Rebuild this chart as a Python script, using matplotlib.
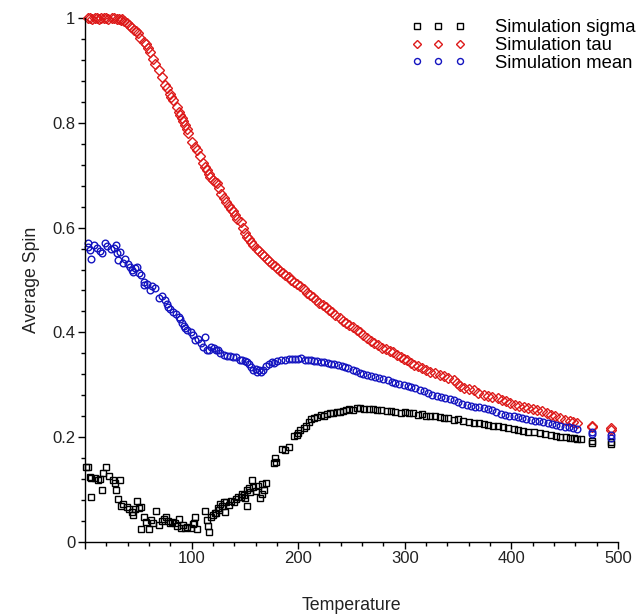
import matplotlib
matplotlib.use("Agg")
import matplotlib.pyplot as plt
from matplotlib.ticker import MultipleLocator, FuncFormatter

plt.rcParams['font.family'] = ['Liberation Sans', 'DejaVu Sans']

# Simulation sigma (black squares)
sigma_T = [1, 3, 5, 6, 6, 9, 12, 14, 16, 17, 20, 23, 26, 28, 29, 31, 33, 34, 36, 39,
           41, 44, 45, 47, 49, 51, 53, 53, 55, 57, 60, 62, 64, 67, 69, 72, 74, 76, 78, 80,
           82, 84, 86, 88, 90, 92, 94, 96, 99, 101, 102, 103, 105, 113, 114, 115, 116, 118, 120, 122,
           123, 125, 126, 127, 129, 130, 131, 132, 135, 137, 140, 142, 144, 146, 147, 149, 150, 152, 152, 154,
           155, 157, 158, 160, 162, 164, 166, 166, 168, 170, 177, 178, 179, 185, 188, 191, 196, 199, 200, 202,
           205, 207, 210, 212, 215, 218, 221, 224, 227, 230, 233, 236, 239, 242, 245, 248, 251, 255, 258, 262,
           266, 270, 274, 278, 283, 287, 291, 296, 300, 304, 308, 312, 316, 320, 324, 328, 333, 337, 341, 346,
           350, 355, 360, 365, 370, 374, 378, 383, 387, 392, 397, 402, 406, 411, 416, 421, 427, 432, 437, 442,
           446, 451, 455, 459, 462, 465, 476, 476, 493, 493]
sigma = [0.143, 0.143, 0.123, 0.121, 0.085, 0.121, 0.118, 0.120, 0.099, 0.132, 0.143, 0.125, 0.118, 0.112, 0.099, 0.082, 0.117, 0.068, 0.072, 0.067,
         0.063, 0.057, 0.051, 0.062, 0.078, 0.064, 0.067, 0.024, 0.048, 0.038, 0.024, 0.041, 0.036, 0.059, 0.031, 0.040, 0.044, 0.047, 0.040, 0.036,
         0.038, 0.036, 0.030, 0.043, 0.027, 0.031, 0.026, 0.029, 0.027, 0.033, 0.035, 0.047, 0.024, 0.059, 0.041, 0.030, 0.019, 0.048, 0.051, 0.055,
         0.054, 0.064, 0.060, 0.073, 0.068, 0.076, 0.057, 0.076, 0.070, 0.078, 0.076, 0.082, 0.086, 0.085, 0.092, 0.089, 0.083, 0.068, 0.099, 0.102,
         0.095, 0.118, 0.104, 0.096, 0.106, 0.083, 0.092, 0.110, 0.098, 0.113, 0.150, 0.159, 0.153, 0.177, 0.176, 0.180, 0.202, 0.204, 0.207, 0.213,
         0.218, 0.221, 0.229, 0.234, 0.236, 0.239, 0.242, 0.241, 0.244, 0.245, 0.246, 0.247, 0.248, 0.250, 0.251, 0.253, 0.252, 0.255, 0.255, 0.253,
         0.254, 0.253, 0.252, 0.251, 0.250, 0.249, 0.248, 0.246, 0.247, 0.245, 0.245, 0.243, 0.244, 0.241, 0.240, 0.241, 0.239, 0.237, 0.236, 0.233,
         0.234, 0.231, 0.229, 0.226, 0.226, 0.224, 0.223, 0.221, 0.221, 0.219, 0.218, 0.216, 0.213, 0.212, 0.210, 0.209, 0.207, 0.205, 0.204, 0.202,
         0.201, 0.200, 0.199, 0.198, 0.197, 0.196, 0.192, 0.188, 0.190, 0.186]

# Simulation tau (red diamonds)
tau_T = [3, 5, 7, 9, 11, 13, 15, 18, 20, 22, 25, 27, 30, 32, 34, 35, 37, 39, 41, 43,
         46, 48, 50, 52, 55, 57, 59, 61, 64, 66, 69, 72, 75, 77, 80, 81, 83, 86, 88, 89,
         91, 92, 94, 96, 97, 100, 103, 105, 108, 111, 113, 114, 116, 117, 120, 122, 124, 126, 128, 130,
         132, 135, 137, 139, 141, 143, 146, 148, 150, 152, 154, 156, 158, 161, 163, 166, 168, 171, 173, 175,
         178, 180, 183, 186, 188, 191, 193, 196, 199, 202, 205, 208, 211, 214, 217, 220, 223, 226, 229, 232,
         235, 239, 242, 245, 248, 251, 255, 258, 261, 265, 268, 271, 275, 279, 282, 286, 289, 293, 296, 299,
         302, 306, 309, 312, 316, 320, 324, 328, 333, 337, 341, 346, 349, 352, 356, 360, 365, 369, 374, 378,
         382, 387, 391, 395, 399, 403, 407, 412, 416, 420, 424, 429, 433, 437, 441, 446, 450, 455, 458, 462,
         476, 476, 493, 493]
tau = [1.0, 1.0, 0.999, 1.0, 1.0, 0.999, 1.0, 1.0, 1.0, 0.999, 1.0, 1.0, 0.999, 0.998, 0.997, 0.999, 0.994, 0.991, 0.987, 0.983,
       0.978, 0.975, 0.971, 0.963, 0.955, 0.950, 0.943, 0.936, 0.923, 0.913, 0.901, 0.888, 0.872, 0.866, 0.856, 0.850, 0.844, 0.830, 0.821, 0.816,
       0.809, 0.803, 0.796, 0.788, 0.780, 0.764, 0.755, 0.748, 0.737, 0.723, 0.716, 0.710, 0.703, 0.697, 0.692, 0.688, 0.685, 0.675, 0.664, 0.656,
       0.649, 0.642, 0.636, 0.631, 0.624, 0.617, 0.611, 0.600, 0.590, 0.583, 0.578, 0.572, 0.567, 0.560, 0.555, 0.550, 0.546, 0.541, 0.536, 0.531,
       0.526, 0.522, 0.517, 0.513, 0.509, 0.505, 0.500, 0.496, 0.492, 0.489, 0.482, 0.476, 0.471, 0.467, 0.461, 0.456, 0.452, 0.448, 0.443, 0.438,
       0.433, 0.427, 0.422, 0.418, 0.414, 0.410, 0.405, 0.400, 0.395, 0.389, 0.384, 0.379, 0.375, 0.371, 0.368, 0.365, 0.362, 0.357, 0.353, 0.350,
       0.347, 0.342, 0.338, 0.335, 0.332, 0.328, 0.325, 0.322, 0.319, 0.316, 0.312, 0.309, 0.303, 0.297, 0.294, 0.292, 0.290, 0.285, 0.281, 0.279,
       0.276, 0.274, 0.271, 0.268, 0.265, 0.262, 0.260, 0.258, 0.256, 0.254, 0.252, 0.249, 0.246, 0.243, 0.240, 0.236, 0.233, 0.230, 0.228, 0.226,
       0.222, 0.219, 0.217, 0.214]

# Simulation mean (blue circles)
mean_T = [3, 3, 5, 6, 8, 11, 14, 16, 19, 21, 24, 27, 29, 30, 31, 33, 36, 38, 40, 42,
          44, 45, 47, 49, 51, 53, 55, 55, 58, 61, 63, 66, 69, 72, 75, 77, 78, 80, 83, 85,
          88, 89, 91, 93, 94, 96, 99, 101, 103, 106, 109, 111, 113, 114, 116, 118, 121, 123, 125, 127,
          130, 133, 136, 139, 142, 145, 147, 150, 152, 154, 156, 158, 160, 161, 163, 165, 167, 170, 173, 175,
          177, 180, 184, 188, 191, 194, 197, 200, 203, 206, 209, 212, 215, 218, 221, 224, 228, 231, 234, 237,
          241, 244, 247, 251, 254, 258, 261, 265, 268, 272, 276, 280, 284, 288, 291, 295, 299, 303, 306, 310,
          314, 318, 322, 326, 330, 334, 338, 342, 346, 350, 354, 358, 362, 366, 370, 374, 378, 382, 386, 390,
          394, 398, 402, 406, 410, 414, 418, 422, 426, 430, 434, 438, 442, 446, 450, 454, 458, 462, 476, 476,
          493, 493]
mean = [0.570, 0.563, 0.557, 0.541, 0.566, 0.561, 0.556, 0.551, 0.570, 0.565, 0.560, 0.561, 0.567, 0.551, 0.538, 0.554, 0.532, 0.540, 0.530, 0.525,
        0.520, 0.516, 0.522, 0.525, 0.514, 0.510, 0.497, 0.490, 0.492, 0.481, 0.488, 0.484, 0.465, 0.470, 0.462, 0.455, 0.449, 0.445, 0.439, 0.435,
        0.430, 0.425, 0.417, 0.412, 0.408, 0.405, 0.401, 0.395, 0.385, 0.388, 0.380, 0.372, 0.392, 0.366, 0.366, 0.372, 0.370, 0.366, 0.366, 0.361,
        0.357, 0.355, 0.354, 0.353, 0.352, 0.348, 0.347, 0.345, 0.344, 0.340, 0.334, 0.328, 0.330, 0.325, 0.328, 0.325, 0.328, 0.336, 0.340, 0.344,
        0.341, 0.345, 0.347, 0.348, 0.349, 0.350, 0.349, 0.350, 0.351, 0.348, 0.348, 0.347, 0.346, 0.345, 0.344, 0.343, 0.342, 0.340, 0.339, 0.337,
        0.336, 0.334, 0.331, 0.328, 0.326, 0.323, 0.320, 0.318, 0.316, 0.314, 0.312, 0.311, 0.309, 0.306, 0.304, 0.301, 0.299, 0.297, 0.296, 0.294,
        0.290, 0.288, 0.284, 0.281, 0.279, 0.277, 0.275, 0.273, 0.270, 0.266, 0.263, 0.262, 0.260, 0.258, 0.257, 0.255, 0.253, 0.251, 0.248, 0.244,
        0.242, 0.241, 0.240, 0.238, 0.236, 0.234, 0.233, 0.231, 0.230, 0.229, 0.227, 0.225, 0.223, 0.222, 0.220, 0.219, 0.217, 0.215, 0.210, 0.206,
        0.204, 0.198]

labels = ["Simulation sigma", "Simulation tau", "Simulation mean"]

fig = plt.figure(figsize=(6.38, 6.16), dpi=100)
ax = fig.add_axes([0.1332, 0.1206, 0.8354, 0.8497])

ax.plot(sigma_T, sigma, ls='none', marker='s', ms=4.5, mfc='none', mec='black', mew=1.0,
        clip_on=False, label=labels[0])
ax.plot(tau_T, tau, ls='none', marker='D', ms=5, mfc='none', mec='#dd1a1a', mew=1.0,
        clip_on=False, label=labels[1])
ax.plot(mean_T, mean, ls='none', marker='o', ms=4.8, mfc='none', mec='#1414c0', mew=1.0,
        clip_on=False, label=labels[2])

ax.set_xlim(0, 500)
ax.set_ylim(0, 1)
ax.spines['top'].set_visible(False)
ax.spines['right'].set_visible(False)
ax.spines['left'].set_linewidth(1.0)
ax.spines['bottom'].set_linewidth(1.0)

ax.xaxis.set_major_locator(MultipleLocator(100))
ax.xaxis.set_minor_locator(MultipleLocator(20))
ax.yaxis.set_major_locator(MultipleLocator(0.2))
ax.yaxis.set_minor_locator(MultipleLocator(0.04))
ax.xaxis.set_major_formatter(FuncFormatter(lambda v, p: '' if v == 0 else '%d' % v))
ax.yaxis.set_major_formatter(FuncFormatter(lambda v, p: '%g' % round(v, 2)))
ax.tick_params(which='major', direction='out', length=5, width=1.0, labelsize=12, pad=2,
               labelcolor='#222222')
ax.tick_params(which='minor', direction='out', length=3, width=1.0)

ax.set_xlabel("Temperature", fontsize=12.8, labelpad=22, color='#222222')
ax.set_ylabel("Average Spin", fontsize=12.8, labelpad=9, color='#222222')

ax.legend(loc='upper left', bbox_to_anchor=(0.633, 0.981), bbox_transform=fig.transFigure,
          numpoints=3, frameon=False, fontsize=13.3, labelspacing=0.05, handlelength=2.92,
          handletextpad=1.6, borderaxespad=0.0, markerscale=0.9)

fig.savefig("out.png", dpi=100)
